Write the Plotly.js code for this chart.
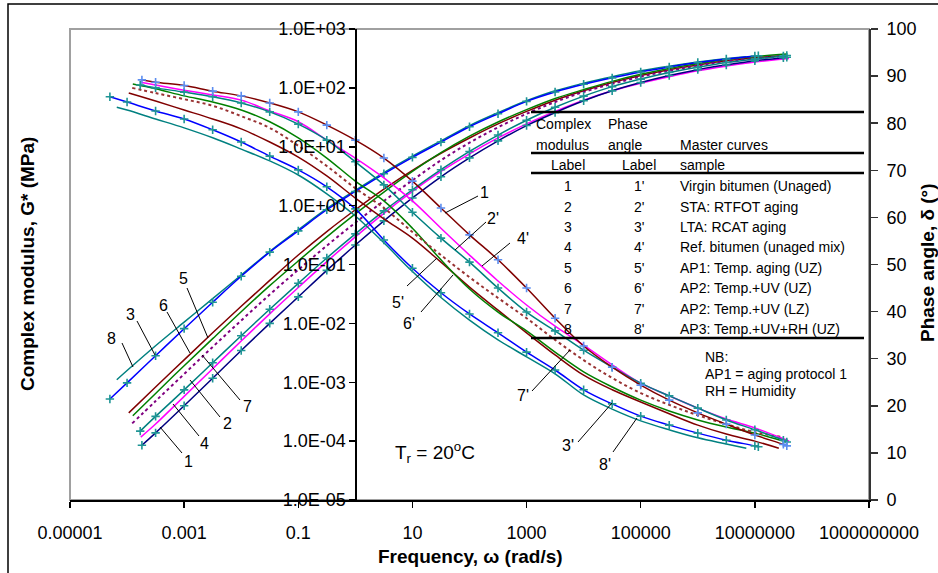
<!DOCTYPE html>
<html>
<head>
<meta charset="utf-8">
<script src="https://cdn.plot.ly/plotly-3.0.1.min.js"></script>
<style>html,body{margin:0;padding:0;background:#fff;}#chart{width:938px;height:573px;}</style>
</head>
<body>
<div id="chart"></div>
<script>
// ---------------- DATA ----------------
// Frequencies (rad/s) of each master curve
const freq1 = [1.82e-4, 3.16e-4, 1e-3, 3.16e-3, 0.01, 0.0316, 0.1, 0.316, 1, 3.16, 10, 31.6, 100, 316, 1000, 3160, 1e4, 3.16e4, 1e5, 3.16e5, 1e6, 3.16e6, 1e7, 3.16e7, 3.63e7];
const freq2 = [1.70e-4, 3.16e-4, 1e-3, 3.16e-3, 0.01, 0.0316, 0.1, 0.316, 1, 3.16, 10, 31.6, 100, 316, 1000, 3160, 1e4, 3.16e4, 1e5, 3.16e5, 1e6, 3.16e6, 1e7, 3.16e7, 3.63e7];
const freq3 = [5.0e-5, 1e-4, 3.16e-4, 1e-3, 3.16e-3, 0.01, 0.0316, 0.1, 0.316, 1, 3.16, 10, 31.6, 100, 316, 1000, 3160, 1e4, 3.16e4, 1e5, 3.16e5, 1e6, 3.16e6, 1e7, 1.15e7];
const freq4 = [1.74e-4, 3.16e-4, 1e-3, 3.16e-3, 0.01, 0.0316, 0.1, 0.316, 1, 3.16, 10, 31.6, 100, 316, 1000, 3160, 1e4, 3.16e4, 1e5, 3.16e5, 1e6, 3.16e6, 1e7, 3.16e7, 3.98e7];
const freq5 = [1.07e-4, 3.16e-4, 1e-3, 3.16e-3, 0.01, 0.0316, 0.1, 0.316, 1, 3.16, 10, 31.6, 100, 316, 1000, 3160, 1e4, 3.16e4, 1e5, 3.16e5, 1e6, 3.16e6, 1e7, 2.63e7];
const freq6 = [1.26e-4, 3.16e-4, 1e-3, 3.16e-3, 0.01, 0.0316, 0.1, 0.316, 1, 3.16, 10, 31.6, 100, 316, 1000, 3160, 1e4, 3.16e4, 1e5, 3.16e5, 1e6, 3.16e6, 1e7, 3.16e7, 3.63e7];
const freq7 = [1.23e-4, 3.16e-4, 1e-3, 3.16e-3, 0.01, 0.0316, 0.1, 0.316, 1, 3.16, 10, 31.6, 100, 316, 1000, 3160, 1e4, 3.16e4, 1e5, 3.16e5, 1e6, 3.16e6, 1e7, 2.82e7];
const freq8 = [6.6e-5, 1e-4, 3.16e-4, 1e-3, 3.16e-3, 0.01, 0.0316, 0.1, 0.316, 1, 3.16, 10, 31.6, 100, 316, 1000, 3160, 1e4, 3.16e4, 1e5, 3.16e5, 1e6, 3.16e6, 7.08e6];

// Complex modulus G* (MPa)
const gstar1 = [8.51e-5, 1.38e-4, 3.98e-4, 1.17e-3, 3.47e-3, 1.00e-2, 2.82e-2, 7.94e-2, 0.214, 0.550, 1.35, 3.09, 6.46, 12.6, 22.9, 38.0, 60.3, 89.1, 123, 162, 204, 245, 288, 324, 331];
const gstar2 = [1.48e-4, 2.63e-4, 7.41e-4, 2.14e-3, 6.17e-3, 1.74e-2, 4.79e-2, 0.129, 0.331, 0.813, 1.86, 4.07, 8.32, 15.8, 28.2, 46.8, 72.4, 105, 141, 182, 224, 269, 309, 347, 355];
const gstar3 = [5.19e-4, 9.77e-4, 2.82e-3, 8.13e-3, 2.29e-2, 6.31e-2, 0.162, 0.372, 0.851, 1.74, 3.47, 6.61, 12.0, 21.9, 36.3, 58.9, 85.1, 115, 148, 186, 226, 269, 309, 347, 351];
const gstar4 = [1.17e-4, 1.95e-4, 5.75e-4, 1.70e-3, 5.01e-3, 1.45e-2, 4.07e-2, 0.112, 0.295, 0.741, 1.74, 3.80, 7.59, 14.1, 24.5, 39.8, 61.7, 89.1, 120, 155, 195, 234, 275, 309, 316];
const gstar5 = [3.02e-4, 8.32e-4, 2.40e-3, 6.92e-3, 1.95e-2, 5.37e-2, 0.145, 0.363, 0.851, 1.91, 3.98, 7.76, 14.1, 24.5, 39.8, 61.7, 89.1, 123, 162, 204, 245, 288, 324, 347];
const gstar6 = [2.69e-4, 6.46e-4, 1.91e-3, 5.50e-3, 1.58e-2, 4.37e-2, 0.115, 0.295, 0.724, 1.70, 3.80, 7.94, 15.1, 26.3, 42.7, 66.1, 93.3, 129, 170, 214, 257, 302, 339, 372, 376];
const gstar7 = [2.00e-4, 4.79e-4, 1.38e-3, 3.98e-3, 1.12e-2, 3.09e-2, 8.13e-2, 0.209, 0.513, 1.20, 2.69, 5.89, 11.7, 21.4, 36.3, 57.5, 85.1, 117, 155, 195, 240, 282, 316, 347];
const gstar8 = [1.10e-3, 1.58e-3, 4.17e-3, 1.05e-2, 2.63e-2, 6.61e-2, 0.166, 0.389, 0.891, 1.82, 3.63, 6.92, 12.6, 22.9, 38.0, 60.3, 89.1, 120, 155, 195, 234, 275, 316, 339];

// Phase angle delta (degrees)
const phase1 = [89.2, 88.7, 88.0, 86.8, 85.8, 84.3, 82.4, 79.6, 76.4, 72.6, 67.7, 62.0, 56.3, 51.0, 45.0, 38.6, 32.7, 28.2, 24.4, 21.2, 18.5, 16.1, 13.8, 11.8, 11.5];
const phase2 = [88.1, 87.5, 86.6, 85.6, 84.3, 82.4, 79.8, 76.4, 71.8, 66.9, 61.1, 55.6, 50.5, 45.0, 39.9, 35.9, 31.8, 28.2, 24.8, 22.1, 19.5, 17.0, 14.9, 12.7, 12.3];
const phase3 = [85.6, 84.5, 82.6, 80.9, 78.6, 76.0, 73.0, 70.1, 66.5, 61.8, 55.2, 49.2, 44.0, 39.5, 35.5, 31.4, 27.6, 23.4, 20.4, 17.8, 15.9, 14.2, 12.7, 11.5, 11.3];
const phase4 = [88.7, 88.1, 87.0, 86.0, 84.9, 82.6, 80.3, 76.4, 72.6, 68.4, 63.5, 57.7, 52.0, 46.5, 41.4, 36.9, 32.9, 28.7, 24.8, 22.1, 19.5, 17.2, 15.3, 13.0, 12.5];
const phase5 = [86.4, 84.7, 82.8, 80.9, 78.8, 76.0, 72.8, 68.8, 64.1, 59.7, 55.6, 50.5, 45.2, 40.3, 35.5, 30.8, 26.5, 23.4, 20.8, 18.3, 15.9, 14.0, 12.5, 11.0];
const phase6 = [88.3, 87.3, 85.8, 84.5, 82.8, 80.3, 76.9, 72.6, 67.7, 63.5, 57.7, 51.0, 44.8, 39.9, 35.9, 31.4, 27.2, 24.0, 21.2, 18.9, 17.0, 15.5, 14.2, 12.5, 12.3];
const phase7 = [87.5, 86.4, 85.1, 83.7, 81.5, 79.0, 75.2, 70.9, 66.2, 62.0, 56.9, 52.0, 47.3, 42.9, 38.6, 34.0, 29.7, 25.9, 22.7, 20.2, 18.0, 16.1, 14.4, 13.4];
const phase8 = [83.4, 82.8, 80.9, 79.0, 76.9, 74.5, 72.0, 69.0, 65.0, 60.3, 54.6, 48.5, 43.0, 38.2, 34.0, 30.4, 26.8, 22.3, 19.3, 16.8, 14.9, 13.2, 11.9, 11.0];

// Axis ticks
const xTickVals = [1e-5, 1e-3, 0.1, 10, 1000, 1e5, 1e7, 1e9];
const xTickText = ['0.00001', '0.001', '0.1', '10', '1000', '100000', '10000000', '1000000000'];
const yTickVals = [1e-5, 1e-4, 1e-3, 1e-2, 1e-1, 1, 10, 100, 1000];
const yTickText = ['1.0E-05', '1.0E-04', '1.0E-03', '1.0E-02', '1.0E-01', '1.0E+00', '1.0E+01', '1.0E+02', '1.0E+03'];

// Table text
const modLabels = ['1', '2', '3', '4', '5', '6', '7', '8'];
const phaseLabels = ["1'", "2'", "3'", "4'", "5'", "6'", "7'", "8'"];
const sampleNames = ['Virgin bitumen (Unaged)', 'STA: RTFOT aging', 'LTA: RCAT aging', 'Ref. bitumen (unaged mix)',
  'AP1: Temp. aging (UZ)', 'AP2: Temp.+UV (UZ)', 'AP2: Temp.+UV (LZ)', 'AP3: Temp.+UV+RH (UZ)'];
const nbLines = ['NB:', 'AP1 = aging protocol 1', 'RH = Humidity'];

// ---------------- STYLES ----------------
const FONT = 'Arial, "Liberation Sans", Helvetica, sans-serif';
const NAVY = '#000080', TEAL = '#008080', BLUE = '#0000FF', DRED = '#800000',
      GREEN = '#008000', MAG = '#FF00FF', PURP = '#800080', DOTRED = '#993333',
      MTEAL = '#1F9595', MBLUE = '#5C8DF0';

function curve(x, y, axis, color, opts) {
  opts = opts || {};
  const t = {
    x: x, y: y, yaxis: axis, type: 'scatter', hoverinfo: 'skip',
    mode: opts.marker ? 'lines+markers' : 'lines',
    line: {color: color, width: 1.5, shape: 'spline', smoothing: 1, dash: opts.dash || 'solid'}
  };
  if (opts.dash) t.line.width = 2;
  if (opts.marker) {
    t.marker = {symbol: 'cross-thin', size: 6, color: opts.marker, line: {color: opts.marker, width: 1.6}};
  }
  return t;
}

const traces = [
  // complex modulus (left axis)
  curve(freq8, gstar8, 'y', TEAL),
  curve(freq5, gstar5, 'y', DRED),
  curve(freq6, gstar6, 'y', GREEN),
  curve(freq7, gstar7, 'y', PURP, {dash: 'dot'}),
  curve(freq4, gstar4, 'y', MAG),
  curve(freq2, gstar2, 'y', TEAL, {marker: MTEAL}),
  curve(freq1, gstar1, 'y', NAVY, {marker: MTEAL}),
  curve(freq3, gstar3, 'y', BLUE, {marker: MTEAL}),
  // phase angle (right axis)
  curve(freq8, phase8, 'y2', TEAL),
  curve(freq5, phase5, 'y2', DRED),
  curve(freq6, phase6, 'y2', GREEN),
  curve(freq7, phase7, 'y2', DOTRED, {dash: 'dot'}),
  curve(freq4, phase4, 'y2', MAG),
  curve(freq2, phase2, 'y2', TEAL, {marker: MTEAL}),
  curve(freq3, phase3, 'y2', BLUE, {marker: MTEAL}),
  curve(freq1, phase1, 'y2', DRED, {marker: MBLUE})
];

// ---------------- LAYOUT HELPERS (pixel -> paper) ----------------
const PL = 70, PR = 869, PT = 29, PB = 500;
const px = v => (v - PL) / (PR - PL);
const py = v => (PB - v) / (PB - PT);

const shapes = [];
const annotations = [];
function seg(x0, y0, x1, y1, w, c) {
  shapes.push({type: 'line', xref: 'paper', yref: 'paper', x0: px(x0), y0: py(y0), x1: px(x1), y1: py(y1),
    line: {color: c || '#000', width: w || 1}});
}
function txt(x, y, s, size, xanchor, extra) {
  annotations.push(Object.assign({xref: 'paper', yref: 'paper', x: px(x), y: py(y), text: s, showarrow: false,
    xanchor: xanchor || 'center', yanchor: 'middle', font: {family: FONT, size: size || 14, color: '#000'}}, extra || {}));
}

// outer chart border and grey plot-area frame
shapes.push({type: 'rect', xref: 'paper', yref: 'paper', x0: px(8), y0: py(4), x1: px(950), y1: py(590),
  line: {color: '#000', width: 1.5}, layer: 'below'});
shapes.push({type: 'rect', xref: 'paper', yref: 'paper', x0: 0, y0: 0, x1: 1, y1: 1,
  line: {color: '#A0A0A0', width: 2}, layer: 'below'});

// table rules
seg(531, 112, 864, 112, 2.5);
seg(531, 153, 864, 153, 2.5);
seg(531, 173, 864, 173, 2.5);
seg(531, 338, 864, 338, 2.5);

// table header
txt(534, 124, 'Complex', 14, 'left');
txt(534, 145, 'modulus', 14, 'left');
txt(568, 165, 'Label', 14, 'center');
txt(606, 124, 'Phase', 14, 'left');
txt(606, 145, 'angle', 14, 'left');
txt(639, 165, 'Label', 14, 'center');
txt(678, 145, 'Master curves', 14, 'left');
txt(678, 165, 'sample', 14, 'left');
const rowY = [186, 207, 227, 247, 268, 288, 309, 329];
for (let i = 0; i < sampleNames.length; i++) {
  txt(568, rowY[i], modLabels[i], 14, 'center');
  txt(639, rowY[i], phaseLabels[i], 14, 'center');
  txt(678, rowY[i], sampleNames[i], 14, 'left');
}
const nbY = [357, 374, 391];
for (let i = 0; i < nbLines.length; i++) txt(703, nbY[i], nbLines[i], 14, 'left');

// curve labels with leader lines (complex modulus)
txt(111, 338, '8', 16); seg(122, 343, 133, 367);
txt(130, 314, '3', 16); seg(137, 321, 155, 355);
txt(163, 305, '6', 16); seg(167, 312, 190, 353);
txt(183, 278, '5', 16); seg(187, 288, 208, 338);
txt(247, 406, '7', 16); seg(240, 400, 202, 355);
txt(227, 423, '2', 16); seg(220, 417, 190, 380);
txt(204, 443, '4', 16); seg(199, 436, 173, 404);
txt(188, 461, '1', 16); seg(182, 453, 160, 427);
// phase angle labels
txt(484, 192, '1', 16); seg(478, 196, 445, 213);
txt(493, 218, "2'", 16); seg(486, 222, 455, 250);
txt(523, 238, "4'", 16); seg(510, 243, 482, 266);
txt(398, 302, "5'", 16); seg(407, 286, 437, 258);
txt(409, 323, "6'", 16); seg(421, 312, 453, 275);
txt(523, 395, "7'", 16); seg(532, 391, 570, 350);
txt(568, 445, "3'", 16); seg(578, 442, 612, 403);
txt(605, 464, "8'", 16); seg(613, 452, 637, 418);

// reference temperature
txt(435, 452, 'T<sub>r</sub> = 20<sup>o</sup>C', 19, 'center');

// axis titles
txt(27, 264, '<b>Complex modulus, G* (MPa)</b>', 19, 'center', {textangle: -90});
txt(927, 263, '<b>Phase angle, δ (°)</b>', 19, 'center', {textangle: -90});
txt(470, 556, '<b>Frequency, ω (rad/s)</b>', 19, 'center');

const layout = {
  width: 938, height: 573,
  margin: {l: PL, r: 938 - PR, t: PT, b: 573 - PB, pad: 0},
  paper_bgcolor: '#fff', plot_bgcolor: '#fff',
  showlegend: false, hovermode: false,
  font: {family: FONT, size: 18, color: '#000'},
  xaxis: {type: 'log', range: [-5, 9], tickvals: xTickVals, ticktext: xTickText,
    ticks: 'outside', ticklen: 6, tickwidth: 1.5, tickcolor: '#000',
    showline: true, linecolor: '#000', linewidth: 1.5, showgrid: false, zeroline: false,
    tickfont: {family: FONT, size: 18, color: '#000'}, ticklabelstandoff: 10},
  yaxis: {type: 'log', range: [-5, 3], anchor: 'free', position: px(355.4), side: 'left',
    tickvals: yTickVals, ticktext: yTickText,
    ticks: 'outside', ticklen: 6, tickwidth: 1.5, tickcolor: '#000',
    showline: true, linecolor: '#000', linewidth: 1.5, showgrid: false, zeroline: false,
    tickfont: {family: FONT, size: 18, color: '#000'}},
  yaxis2: {overlaying: 'y', side: 'right', anchor: 'x', range: [0, 100], tick0: 0, dtick: 10,
    ticks: 'outside', ticklen: 7, tickwidth: 1.5, tickcolor: '#333',
    showline: true, linecolor: '#333', linewidth: 2, showgrid: false, zeroline: false,
    tickfont: {family: FONT, size: 18, color: '#000'}, ticklabelstandoff: 5},
  shapes: shapes,
  annotations: annotations
};

Plotly.newPlot('chart', traces, layout, {displayModeBar: false, staticPlot: true});
</script>
</body>
</html>
